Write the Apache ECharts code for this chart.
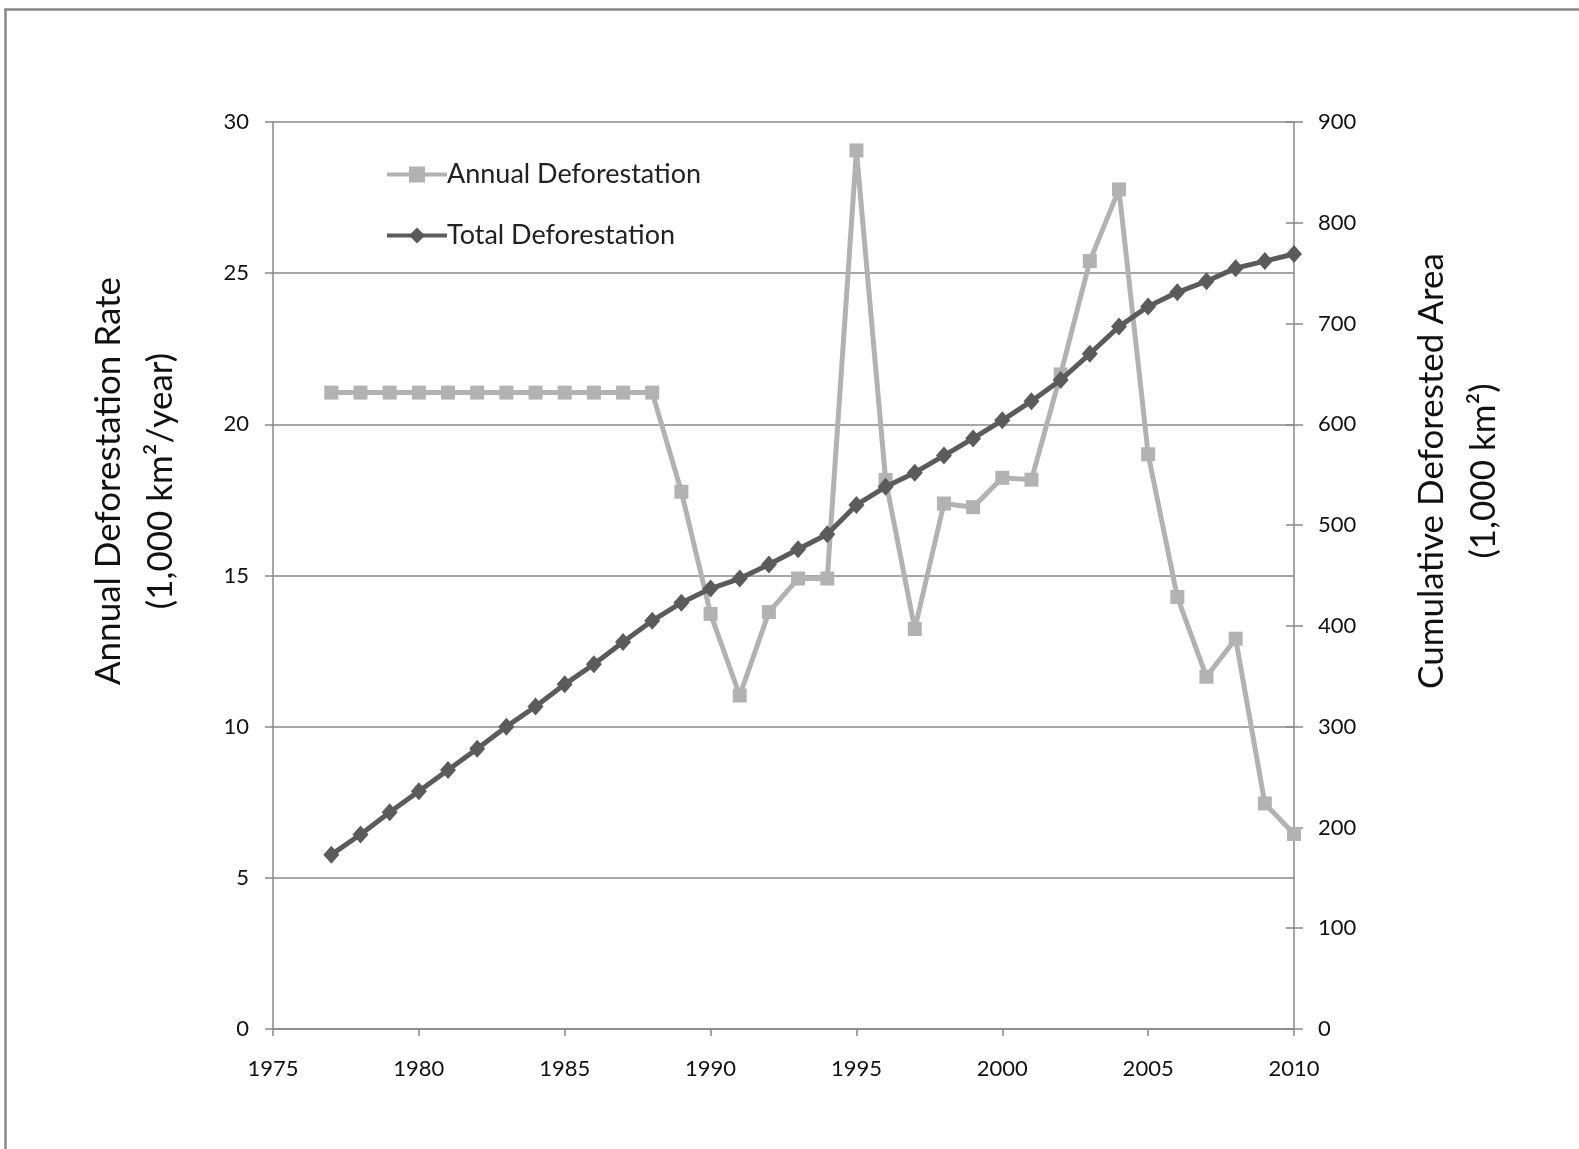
<!DOCTYPE html>
<html>
<head>
<meta charset="utf-8">
<script src="https://cdn.jsdelivr.net/npm/echarts@6/dist/echarts.min.js"></script>
<style>
html,body{margin:0;padding:0;background:#fff;}
#chart{width:1579px;height:1149px;}
</style>
</head>
<body>
<div id="chart"></div>
<script>
// ---- data ----
const years = [1977,1978,1979,1980,1981,1982,1983,1984,1985,1986,1987,1988,1989,1990,1991,1992,1993,1994,1995,1996,1997,1998,1999,2000,2001,2002,2003,2004,2005,2006,2007,2008,2009,2010];
const annualDeforestation = [21.05,21.05,21.05,21.05,21.05,21.05,21.05,21.05,21.05,21.05,21.05,21.05,17.77,13.73,11.03,13.79,14.9,14.9,29.06,18.16,13.23,17.38,17.26,18.23,18.17,21.65,25.40,27.77,19.01,14.29,11.65,12.91,7.46,6.45];
const totalDeforestation = [173,193,215,236,257,278,300,320,342,362,384,405,423,437,447,461,476,491,520,538,552,569,586,604,623,644,670,697,717,731,742,755,762,769];
const seriesNames = ['Annual Deforestation','Total Deforestation'];
const leftAxisTitle = ['Annual Deforestation Rate','(1,000 km\u00b2/year)'];
const rightAxisTitle = ['Cumulative Deforested Area','(1,000 km\u00b2)'];

const FONT = 'Lato, "Open Sans", sans-serif';
const chart = echarts.init(document.getElementById('chart'));
const pairs = (xs, ys) => xs.map((x, i) => [x, ys[i]]);

const option = {
  backgroundColor: '#fff',
  animation: false,
  textStyle: {fontFamily: FONT},
  grid: {left: 273, top: 122, width: 1021, height: 907, containLabel: false, outerBoundsMode: 'none'},
  legend: {
    orient: 'vertical', left: 380, top: 156, itemGap: 34,
    itemWidth: 60, itemHeight: 20,
    lineStyle: {width: 4},
    textStyle: {fontFamily: FONT, fontSize: 27, color: '#222', padding: [0,0,0,-5]},
    data: seriesNames
  },
  xAxis: {
    type: 'value', min: 1975, max: 2010, interval: 5,
    axisLine: {show: true, onZero: false, lineStyle: {color: '#888', width: 1.5}},
    axisTick: {show: true, length: 7, lineStyle: {color: '#888', width: 1.5}},
    axisLabel: {fontFamily: FONT, fontSize: 22, color: '#111', margin: 29, formatter: v => String(v)},
    splitLine: {show: false}
  },
  yAxis: [
    {
      type: 'value', min: 0, max: 30, interval: 5, position: 'left',
      axisLine: {show: true, lineStyle: {color: '#888', width: 1.5}},
      axisTick: {show: true, length: 8, lineStyle: {color: '#888', width: 1.5}},
      axisLabel: {fontFamily: FONT, fontSize: 22, color: '#111', margin: 24},
      splitLine: {show: true, lineStyle: {color: '#888', width: 1.5}}
    },
    {
      type: 'value', min: 0, max: 900, interval: 100, position: 'right',
      axisLine: {show: true, lineStyle: {color: '#888', width: 1.5}},
      axisTick: {show: true, length: 9, lineStyle: {color: '#888', width: 1.5}},
      axisLabel: {fontFamily: FONT, fontSize: 22, color: '#111', margin: 24},
      splitLine: {show: false}
    },
    {
      type: 'value', min: 0, max: 900, interval: 100, position: 'right',
      axisLine: {show: false},
      axisTick: {show: true, inside: true, length: 8, lineStyle: {color: '#888', width: 1.5}},
      axisLabel: {show: false},
      splitLine: {show: false}
    }
  ],
  series: [
    {
      name: seriesNames[0], type: 'line', yAxisIndex: 0,
      data: pairs(years, annualDeforestation),
      symbol: 'rect', symbolSize: 14, showAllSymbol: true,
      lineStyle: {color: '#b2b2b2', width: 5},
      itemStyle: {color: '#b2b2b2'},
      z: 2
    },
    {
      name: seriesNames[1], type: 'line', yAxisIndex: 1,
      data: pairs(years, totalDeforestation),
      symbol: 'diamond', symbolSize: [16, 18], showAllSymbol: true,
      lineStyle: {color: '#5b5b5b', width: 5},
      itemStyle: {color: '#5b5b5b'},
      z: 3
    }
  ],
  graphic: [
    {type: 'rect', left: 3, top: 7, shape: {width: 1650, height: 1250}, style: {fill: 'none', stroke: '#888', lineWidth: 2.5}, silent: true},
    {type: 'text', x: 109, y: 481, rotation: Math.PI/2, style: {text: leftAxisTitle[0], fontFamily: FONT, fontSize: 35, fill: '#111', align: 'center', verticalAlign: 'middle'}},
    {type: 'text', x: 161, y: 481, rotation: Math.PI/2, style: {text: leftAxisTitle[1], fontFamily: FONT, fontSize: 35, fill: '#111', align: 'center', verticalAlign: 'middle'}},
    {type: 'text', x: 1432, y: 471, rotation: Math.PI/2, style: {text: rightAxisTitle[0], fontFamily: FONT, fontSize: 35, fill: '#111', align: 'center', verticalAlign: 'middle'}},
    {type: 'text', x: 1484, y: 471, rotation: Math.PI/2, style: {text: rightAxisTitle[1], fontFamily: FONT, fontSize: 35, fill: '#111', align: 'center', verticalAlign: 'middle'}}
  ]
};
chart.setOption(option);
</script>
</body>
</html>
